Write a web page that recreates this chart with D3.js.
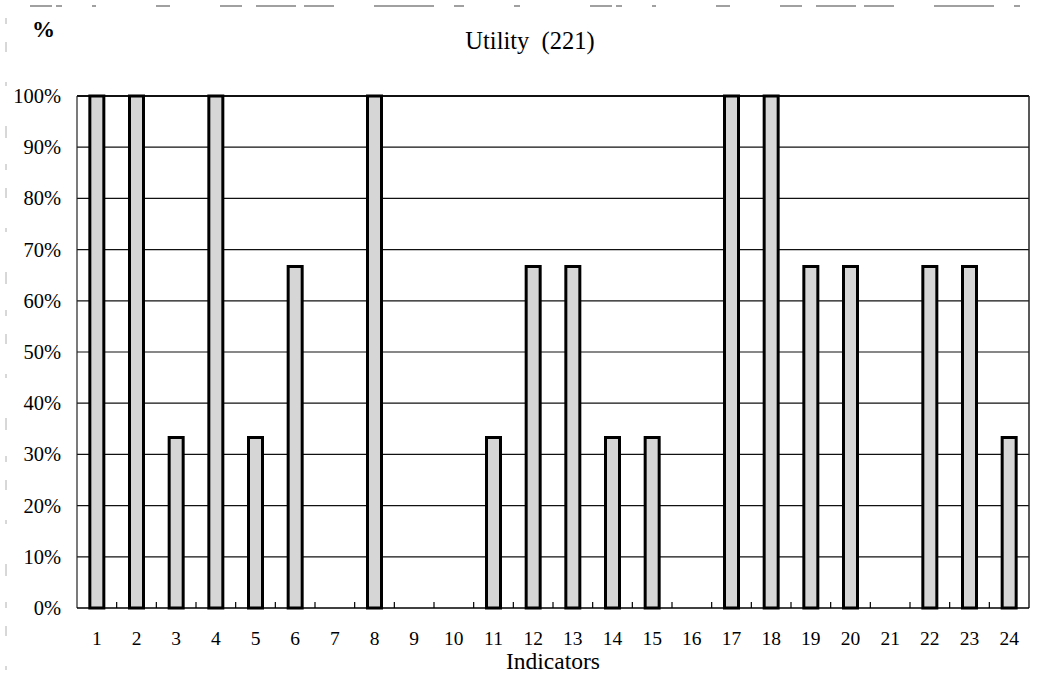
<!DOCTYPE html>
<html>
<head>
<meta charset="utf-8">
<script src="https://cdn.jsdelivr.net/npm/d3@7"></script>
<style>
  html, body { margin: 0; padding: 0; background: #fff; }
  svg { display: block; font-family: "Liberation Serif", "Times New Roman", serif; }
</style>
</head>
<body>
<svg id="chart" width="1043" height="680"></svg>
<script>
// Share of indicators met, by indicator number
const indicators = ["1","2","3","4","5","6","7","8","9","10","11","12",
                    "13","14","15","16","17","18","19","20","21","22","23","24"];
const shares = [100, 100, 33.3, 100, 33.3, 66.7, 0, 100, 0, 0, 33.3, 66.7,
                66.7, 33.3, 33.3, 0, 100, 100, 66.7, 66.7, 0, 66.7, 66.7, 33.3];
const yTicks = [0, 10, 20, 30, 40, 50, 60, 70, 80, 90, 100];
const chartTitle = "Utility\u00A0 (221)";
const xTitle = "Indicators";
const yTitle = "%";

const svg = d3.select("#chart");
const plot = { left: 77, right: 1029, top: 96, bottom: 608 };

const x = d3.scaleBand()
  .domain(indicators)
  .range([plot.left, plot.right])
  .paddingInner(0)
  .paddingOuter(0);

const y = d3.scaleLinear()
  .domain([0, 100])
  .range([plot.bottom, plot.top]);

// frame edges from the scanned page
svg.append("line")
  .attr("x1", 30).attr("x2", 1020).attr("y1", 6).attr("y2", 6)
  .attr("stroke", "#a0a0a0").attr("stroke-width", 2)
  .attr("stroke-dasharray", "22 4 6 30 4 60 14 50 22 14 40 8 30 40 60 20 10 50 6 70");
svg.append("line")
  .attr("x1", 6).attr("x2", 6).attr("y1", 18).attr("y2", 680)
  .attr("stroke", "#b0b0b0").attr("stroke-width", 1)
  .attr("stroke-dasharray", "6 18 10 30 4 40 12 26");

// horizontal gridlines
svg.append("g")
  .selectAll("line")
  .data(yTicks.filter(d => d > 0 && d < 100))
  .join("line")
  .attr("x1", plot.left).attr("x2", plot.right)
  .attr("y1", d => y(d)).attr("y2", d => y(d))
  .attr("stroke", "#111").attr("stroke-width", 1.2);

// plot frame
svg.append("line")
  .attr("x1", plot.left).attr("x2", plot.right)
  .attr("y1", plot.top).attr("y2", plot.top)
  .attr("stroke", "#111").attr("stroke-width", 2);
svg.append("line")
  .attr("x1", plot.left).attr("x2", plot.left)
  .attr("y1", plot.top).attr("y2", plot.bottom)
  .attr("stroke", "#222").attr("stroke-width", 1.2);
svg.append("line")
  .attr("x1", plot.right).attr("x2", plot.right)
  .attr("y1", plot.top).attr("y2", plot.bottom)
  .attr("stroke", "#222").attr("stroke-width", 1.5);

// bars
const barW = 14;
svg.append("g")
  .selectAll("rect")
  .data(indicators.map((k, i) => ({ k, v: shares[i] })).filter(d => d.v > 0))
  .join("rect")
  .attr("x", d => x(d.k) + x.bandwidth() / 2 - barW / 2)
  .attr("width", barW)
  .attr("y", d => y(d.v))
  .attr("height", d => y(0) - y(d.v))
  .attr("fill", "#d6d6d6")
  .attr("stroke", "#000")
  .attr("stroke-width", 3);

// x axis with inward ticks at category boundaries
const xAxis = svg.append("g")
  .attr("transform", `translate(0,${plot.bottom})`);
xAxis.append("line")
  .attr("x1", plot.left).attr("x2", plot.right)
  .attr("stroke", "#000").attr("stroke-width", 1.6);
xAxis.selectAll("line.tick")
  .data(indicators.slice(1))
  .join("line")
  .attr("class", "tick")
  .attr("x1", d => x(d)).attr("x2", d => x(d))
  .attr("y1", 0).attr("y2", -6)
  .attr("stroke", "#000").attr("stroke-width", 1.2);
xAxis.selectAll("text")
  .data(indicators)
  .join("text")
  .attr("x", d => x(d) + x.bandwidth() / 2)
  .attr("y", 37)
  .attr("text-anchor", "middle")
  .attr("font-size", 19.5)
  .attr("fill", "#000")
  .text(d => d);

// y axis labels
svg.append("g")
  .selectAll("text")
  .data(yTicks)
  .join("text")
  .attr("x", 61)
  .attr("y", d => y(d) + 7)
  .attr("text-anchor", "end")
  .attr("font-size", 20.5)
  .attr("fill", "#000")
  .text(d => d + "%");

// titles
svg.append("text")
  .attr("x", 530).attr("y", 49)
  .attr("text-anchor", "middle")
  .attr("font-size", 24.5)
  .attr("fill", "#000")
  .text(chartTitle);
svg.append("text")
  .attr("x", 553).attr("y", 669)
  .attr("text-anchor", "middle")
  .attr("font-size", 23.5)
  .attr("fill", "#000")
  .text(xTitle);
svg.append("text")
  .attr("x", 32).attr("y", 37)
  .attr("font-size", 23)
  .attr("font-weight", "bold")
  .attr("fill", "#000")
  .text(yTitle);
</script>
</body>
</html>
